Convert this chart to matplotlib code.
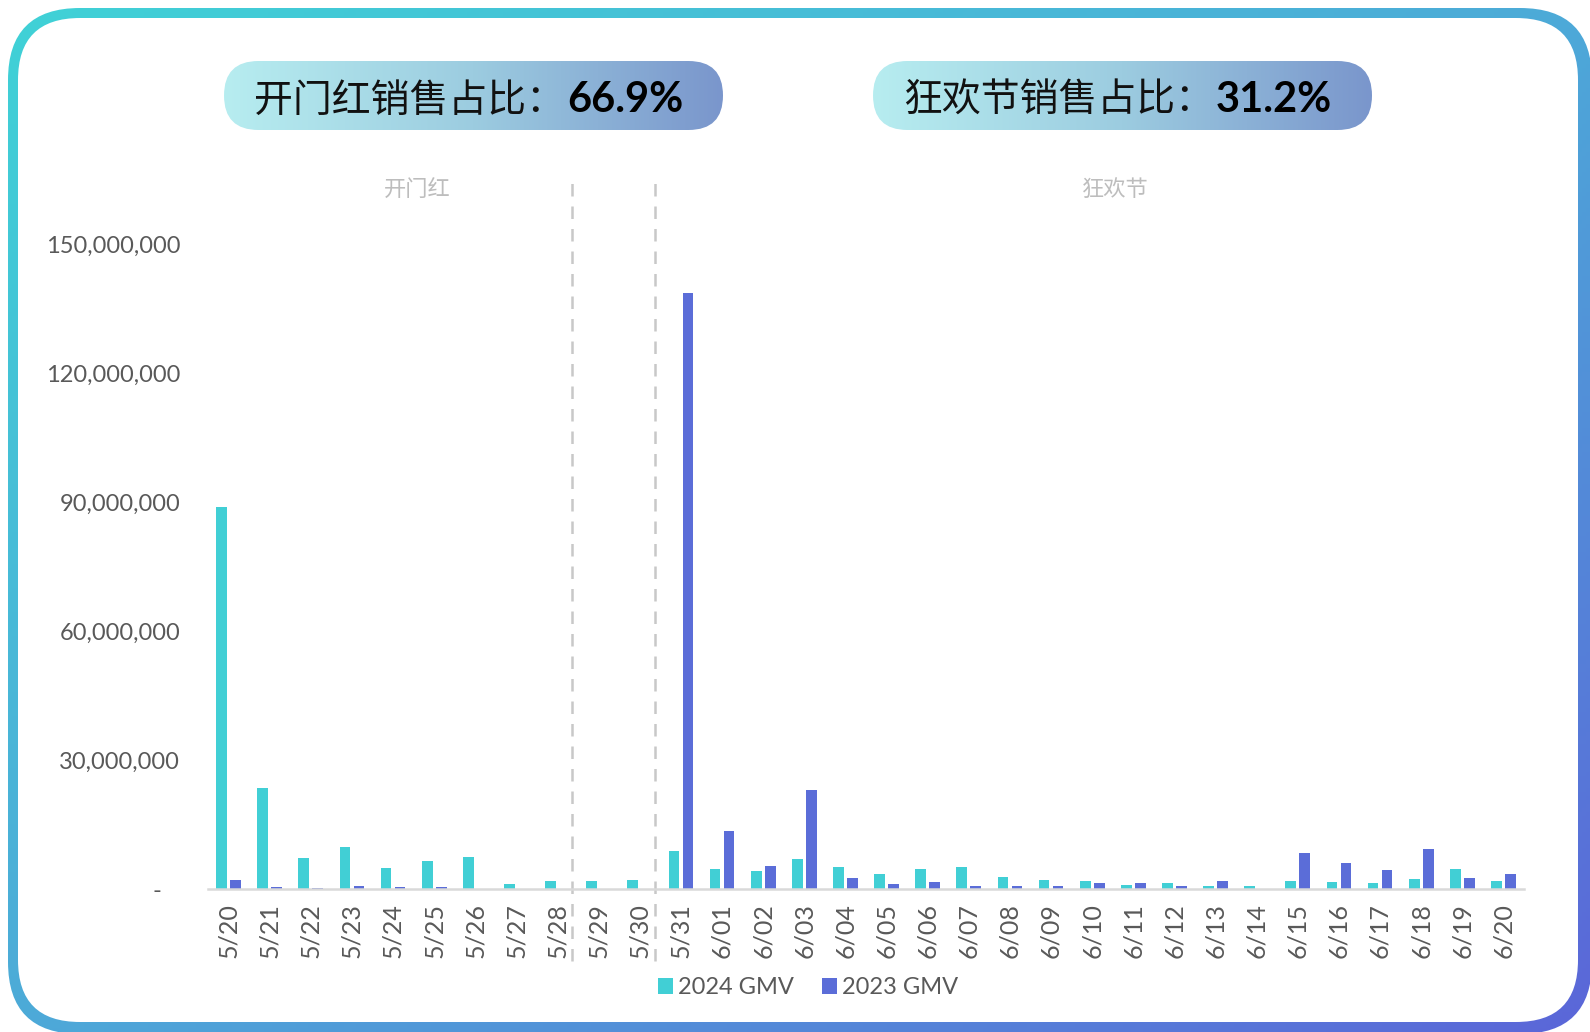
import matplotlib
matplotlib.use("Agg")
import matplotlib.pyplot as plt
import matplotlib.transforms as mtransforms
import numpy as np
from matplotlib.patches import FancyBboxPatch
from matplotlib.colors import LinearSegmentedColormap
from matplotlib.ticker import FuncFormatter

plt.rcParams['font.family'] = ['Lato', 'Noto Sans CJK SC', 'DejaVu Sans']

# data
dates = ["5/20", "5/21", "5/22", "5/23", "5/24", "5/25", "5/26", "5/27", "5/28", "5/29", "5/30", "5/31",
         "6/01", "6/02", "6/03", "6/04", "6/05", "6/06", "6/07", "6/08", "6/09", "6/10",
         "6/11", "6/12", "6/13", "6/14", "6/15", "6/16", "6/17", "6/18", "6/19", "6/20"]
gmv_2024 = [88_900_000, 23_500_000, 7_200_000, 9_700_000, 5_000_000, 6_400_000, 7_500_000, 1_200_000,
            1_800_000, 1_800_000, 2_200_000, 8_900_000,
            4_600_000, 4_300_000, 6_900_000, 5_200_000, 3_600_000, 4_600_000, 5_200_000, 2_900_000,
            2_200_000, 1_900_000, 1_000_000, 1_300_000, 800_000, 800_000, 1_800_000, 1_600_000,
            1_400_000, 2_400_000, 4_700_000, 1_900_000]
gmv_2023 = [2_200_000, 400_000, 200_000, 600_000, 400_000, 400_000, 0, 0,
            0, 0, 0, 138_700_000,
            13_600_000, 5_300_000, 23_000_000, 2_600_000, 1_200_000, 1_600_000, 700_000, 700_000,
            700_000, 1_300_000, 1_300_000, 700_000, 1_800_000, 0, 8_400_000, 6_100_000,
            4_400_000, 9_200_000, 2_600_000, 3_500_000]
series_labels = ["2024 GMV", "2023 GMV"]
y_ticks = [0, 30_000_000, 60_000_000, 90_000_000, 120_000_000, 150_000_000]

periods = ["开门红", "狂欢节"]
period_pills = [("开门红销售占比：", "66.9%"), ("狂欢节销售占比：", "31.2%")]

cyan = '#41CFD5'
blue = '#5B6DD8'

W, H = 1590, 1032
fig = plt.figure(figsize=(W / 100, H / 100), dpi=100)

# background layer in pixel coords
bg = fig.add_axes([0, 0, 1, 1], zorder=0)
bg.set_autoscale_on(False)
bg.set_xlim(0, W)
bg.set_ylim(H, 0)
bg.axis('off')

# gradient frame
border_cmap = LinearSegmentedColormap.from_list('b', ['#40D2D6', '#4DAAD8', '#5B66D9'])
yy, xx = np.mgrid[0:H:4, 0:W:4]
grad = (xx / W + yy / H) / 2
outer = FancyBboxPatch((8, 8), W - 8 + 2, H - 8 + 2,
                       boxstyle="round,pad=0,rounding_size=72", fc='none', ec='none')
bg.add_patch(outer)
im = bg.imshow(grad, cmap=border_cmap, extent=(0, W, H, 0), aspect='auto', zorder=1)
im.set_clip_path(outer)
inner = FancyBboxPatch((18, 18), W - 18 - 12, H - 18 - 10,
                       boxstyle="round,pad=0,rounding_size=62", fc='white', ec='none', zorder=2)
bg.add_patch(inner)

# header pills
pill_cmap = LinearSegmentedColormap.from_list('p', ['#B7EDF0', '#9CCCE0', '#7A96CC'])
renderer = fig.canvas.get_renderer()


def pill(x0, x1, label, value):
    y0, y1 = 61, 130
    h = y1 - y0
    patch = FancyBboxPatch((x0, y0), x1 - x0, h, boxstyle="round,pad=0,rounding_size=%f" % (h / 2),
                           fc='none', ec='none')
    bg.add_patch(patch)
    g = np.linspace(0, 1, 256).reshape(1, -1)
    p = bg.imshow(g, cmap=pill_cmap, extent=(x0, x1, y1, y0), aspect='auto', zorder=3)
    p.set_clip_path(patch)
    t1 = bg.text(0, 112, label, fontsize=28, family=['Noto Sans CJK SC', 'DejaVu Sans'],
                 color='#111111', va='baseline', ha='left', zorder=4)
    t2 = bg.text(0, 112, value, fontsize=30, family=['Lato', 'DejaVu Sans'], fontweight='bold',
                 color='#000000', va='baseline', ha='left', zorder=4)
    w1 = t1.get_window_extent(renderer).width
    w2 = t2.get_window_extent(renderer).width
    start = (x0 + x1) / 2 - (w1 + w2) / 2 - 6
    t1.set_x(start)
    t2.set_x(start + w1 + 2)


pill(224, 723, *period_pills[0])
pill(873, 1372, *period_pills[1])

# main chart
left, right = 208, 1524
bottom, top = 889, 244
ax = fig.add_axes([left / W, 1 - bottom / H, (right - left) / W, (bottom - top) / H], zorder=5)
ax.patch.set_alpha(0)

x = np.arange(len(dates))
ax.bar(x - 0.17, gmv_2024, 0.26, color=cyan, label=series_labels[0])
ax.bar(x + 0.17, gmv_2023, 0.26, color=blue, label=series_labels[1])

ax.set_xlim(-0.5, len(dates) - 0.5)
ax.set_ylim(0, 150_000_000)
ax.set_yticks(y_ticks)
ax.yaxis.set_major_formatter(FuncFormatter(lambda v, p: "-   " if v == 0 else "{:,.0f}".format(v)))
ax.set_xticks(x)
ax.set_xticklabels(dates, rotation=90)
ax.tick_params(axis='y', length=0, pad=20, labelsize=17, labelcolor='#595959')
ax.tick_params(axis='x', length=0, pad=10, labelsize=18, labelcolor='#595959')
for s in ['top', 'right', 'left']:
    ax.spines[s].set_visible(False)
ax.spines['bottom'].set_color('#D9D9D9')
ax.spines['bottom'].set_linewidth(1.8)

# period separators
trans = mtransforms.blended_transform_factory(ax.transData, ax.transAxes)
for xb in [8.35, 10.37]:
    ax.plot([xb, xb], [-0.112, 1.102], transform=trans, color='#C8C8C8', lw=1.8,
            dashes=(5, 4), clip_on=False)
ax.text(4.6, 1.084, periods[0], transform=trans, ha='center', va='center', fontsize=16,
        color='#BDBDBD', family=['Noto Sans CJK SC', 'DejaVu Sans'])
ax.text(21.55, 1.084, periods[1], transform=trans, ha='center', va='center', fontsize=16,
        color='#BDBDBD', family=['Noto Sans CJK SC', 'DejaVu Sans'])

fig.legend(loc='center', bbox_to_anchor=(808 / W, 1 - 988 / H), ncol=2, frameon=False,
           fontsize=17, handlelength=0.65, handleheight=0.65, handletextpad=0.2,
           columnspacing=1.2, labelcolor='#595959')

fig.savefig('out.png', dpi=100)
